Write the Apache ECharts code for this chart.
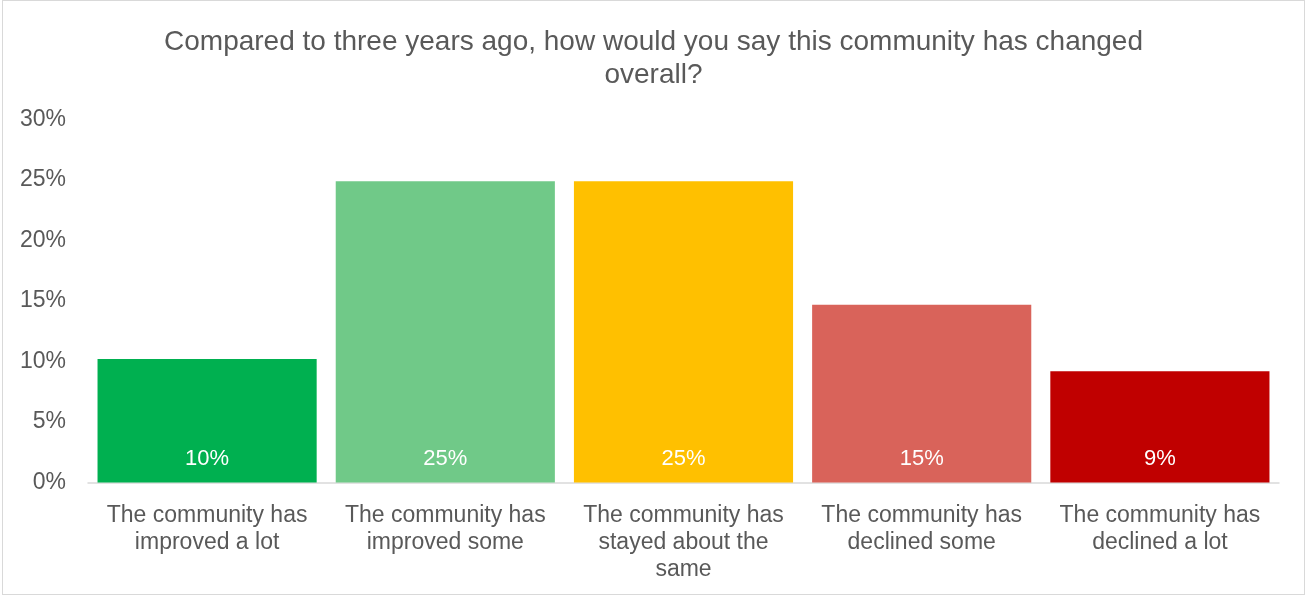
<!DOCTYPE html>
<html>
<head>
<meta charset="utf-8">
<script src="https://cdn.jsdelivr.net/npm/echarts@6/dist/echarts.min.js"></script>
<style>
  html, body { margin: 0; padding: 0; background: #fff; }
  #frame { position: absolute; left: 2px; top: 0; width: 1303px; height: 595px; border: 1px solid #d9d9d9; box-sizing: border-box; }
  #chart { position: absolute; left: 0; top: 0; width: 1307px; height: 597px; }
</style>
</head>
<body>
<div id="frame"></div>
<div id="chart"></div>
<script>
// Survey responses: perception of community change over three years
const categories = [
  'The community has\nimproved a lot',
  'The community has\nimproved some',
  'The community has\nstayed about the\nsame',
  'The community has\ndeclined some',
  'The community has\ndeclined a lot'
];
const shares = [10.2, 24.9, 24.9, 14.7, 9.2];
const barColors = ['#00B050', '#70C988', '#FFC000', '#D9635A', '#C00000'];
const yTicks = { min: 0, max: 30, interval: 5 };

const font = 'Liberation Sans, Arial, sans-serif';
const chart = echarts.init(document.getElementById('chart'));
chart.setOption({
  animation: false,
  textStyle: { fontFamily: font },
  title: {
    text: 'Compared to three years ago, how would you say this community has changed\noverall?',
    left: 'center',
    top: 21,
    textStyle: { fontSize: 28, fontWeight: 'normal', color: '#595959', lineHeight: 33, fontFamily: font }
  },
  grid: { left: 88, right: 28, top: 119.5, bottom: 114.5, containLabel: false },
  xAxis: {
    type: 'category',
    data: categories,
    axisLine: { lineStyle: { color: '#d9d9d9', width: 1.5 } },
    axisTick: { show: false },
    axisLabel: { color: '#595959', fontSize: 23, lineHeight: 27, margin: 20, interval: 0 }
  },
  yAxis: {
    type: 'value',
    min: yTicks.min, max: yTicks.max, interval: yTicks.interval,
    splitLine: { show: false },
    axisLine: { show: false },
    axisTick: { show: false },
    axisLabel: { color: '#595959', fontSize: 23, margin: 22, formatter: v => v + '%' }
  },
  series: [{
    type: 'bar',
    data: shares.map((v, i) => ({ value: v, itemStyle: { color: barColors[i] } })),
    barCategoryGap: '8%',
    label: {
      show: true,
      position: 'insideBottom',
      distance: 13,
      color: '#ffffff',
      fontSize: 22,
      formatter: p => Math.round(p.value) + '%'
    }
  }]
});
</script>
</body>
</html>
